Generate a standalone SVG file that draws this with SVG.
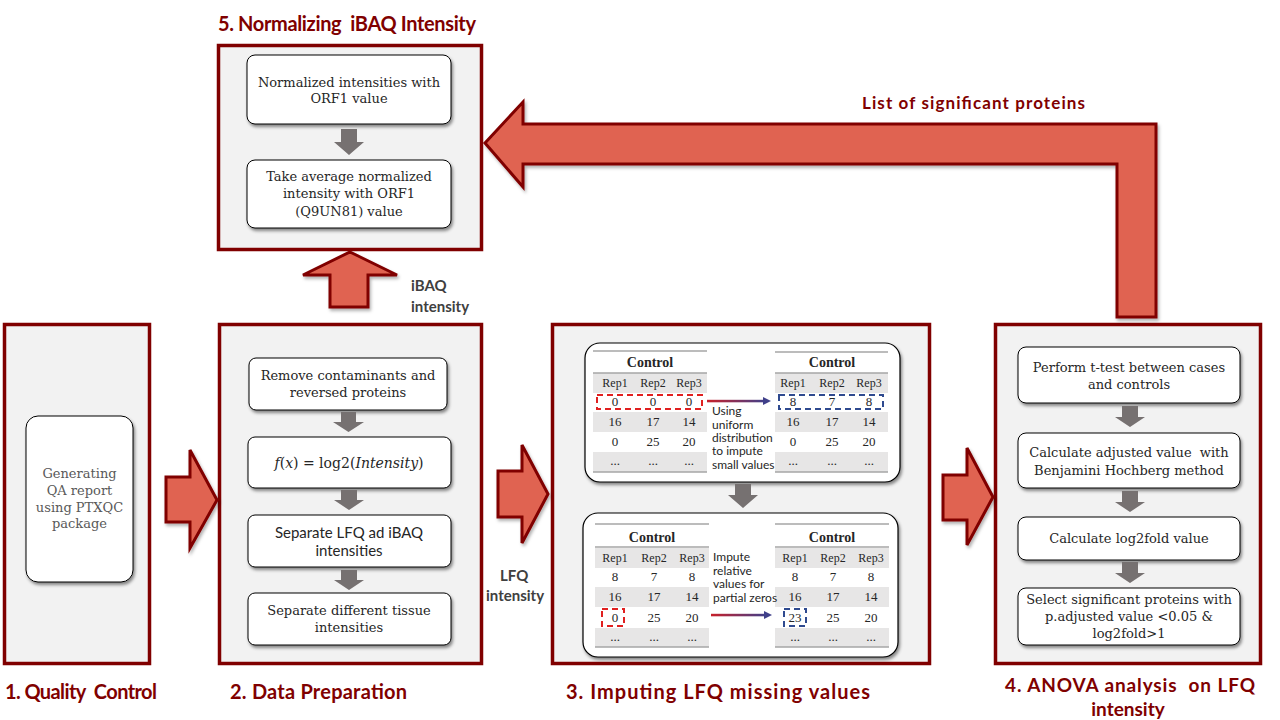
<svg xmlns="http://www.w3.org/2000/svg" width="1280" height="720" viewBox="0 0 1280 720">
<style>
.sec{fill:#f2f2f2;stroke:#800000;stroke-width:3.5}
.box{fill:#fff;stroke:#000;stroke-width:1;filter:url(#sh)}
.panel{fill:#fff;stroke:#000;stroke-width:1.2;filter:url(#sh)}
.big{fill:#e06451;stroke:#800000;stroke-width:3;stroke-linejoin:miter;filter:url(#sh2)}
.garr{fill:#767171}
.title{font-family:Lato,"Liberation Sans",sans-serif;font-weight:700;font-size:20px;fill:#800000}
.lbl{font-family:Lato,"Liberation Sans",sans-serif;font-weight:700;font-size:15px;fill:#404040}
.ser{font-family:"DejaVu Serif","Liberation Serif",serif;font-size:13px;fill:#262626;text-anchor:middle}
.sans{font-family:Lato,"Liberation Sans",sans-serif;font-size:15px;fill:#262626;text-anchor:middle}
.tb{font-family:"Liberation Serif",serif;font-size:13px;fill:#262626;text-anchor:middle}
.th{font-family:"Liberation Serif",serif;font-size:14px;font-weight:700;fill:#262626;text-anchor:middle}
.tl{stroke:#a6a6a6;stroke-width:1.5}
.tg{fill:#e7e6e6}
.desc{font-family:Lato,"Liberation Sans",sans-serif;font-size:12px;fill:#262626}
.rd{fill:none;stroke:#e02020;stroke-width:2;stroke-dasharray:6 4}
.bd{fill:none;stroke:#2f4a8f;stroke-width:2;stroke-dasharray:6 4}
</style>
<defs>
<filter id="sh" x="-20%" y="-20%" width="150%" height="160%"><feDropShadow dx="1.5" dy="2.5" stdDeviation="1.8" flood-color="#000" flood-opacity="0.45"/></filter>
<filter id="sh2" x="-20%" y="-20%" width="150%" height="160%"><feDropShadow dx="1.5" dy="2.5" stdDeviation="1.5" flood-color="#000" flood-opacity="0.3"/></filter>
<linearGradient id="ga" x1="0" y1="0" x2="1" y2="0"><stop offset="0" stop-color="#c8202a"/><stop offset="1" stop-color="#40408a"/></linearGradient>
</defs>
<rect width="1280" height="720" fill="#fff"/>

<!-- Section 1 -->
<g id="sec1">
<rect class="sec" x="4.5" y="324.5" width="145" height="339"/>
<rect class="box" x="26" y="416" width="107" height="166" rx="12"/>
<text class="ser" style="fill:#595959"><tspan x="79.5" y="478">Generating</tspan><tspan x="79.5" y="495">QA report</tspan><tspan x="79.5" y="512">using PTXQC</tspan><tspan x="79.5" y="528">package</tspan></text>
<text class="title" x="5" y="699" xml:space="preserve" textLength="152" lengthAdjust="spacing">1. Quality  Control</text>
</g>

<!-- Section 2 -->
<g id="sec2">
<rect class="sec" x="219.5" y="324.5" width="262" height="339"/>
<g id="n2a"><rect class="box" x="249" y="358" width="198" height="52" rx="7"/>
<text class="ser"><tspan x="348" y="380">Remove contaminants and</tspan><tspan x="348" y="397">reversed proteins</tspan></text></g>
<g id="n2b"><rect class="box" x="248" y="437" width="203" height="51" rx="7"/>
<text class="ser" x="349" y="468" style="font-size:14px"><tspan font-style="italic">f</tspan>(<tspan font-style="italic">x</tspan>) = log2(<tspan font-style="italic">Intensity</tspan>)</text></g>
<g id="n2c"><rect class="box" x="248" y="515" width="203" height="52" rx="7"/>
<text class="sans"><tspan x="349" y="538">Separate LFQ ad iBAQ</tspan><tspan x="349" y="556">intensities</tspan></text></g>
<g id="n2d"><rect class="box" x="248" y="593" width="203" height="52" rx="7"/>
<text class="ser"><tspan x="349" y="615">Separate different tissue</tspan><tspan x="349" y="632">intensities</tspan></text></g>
<text class="title" x="230" y="699" textLength="177" lengthAdjust="spacing">2. Data Preparation</text>
</g>

<!-- Section 5 -->
<g id="sec5">
<rect class="sec" x="218.5" y="45.5" width="263" height="204"/>
<g id="n5a"><rect class="box" x="247" y="55" width="204" height="69" rx="8"/>
<text class="ser"><tspan x="349" y="87">Normalized intensities with</tspan><tspan x="349" y="103">ORF1 value</tspan></text></g>
<g id="n5b"><rect class="box" x="247" y="160" width="204" height="68" rx="8"/>
<text class="ser"><tspan x="349" y="181">Take average normalized</tspan><tspan x="349" y="198">intensity with ORF1</tspan><tspan x="349" y="216">(Q9UN81) value</tspan></text></g>
<text class="title" x="218" y="31" xml:space="preserve" textLength="258" lengthAdjust="spacing">5. Normalizing  iBAQ Intensity</text>
</g>

<!-- Section 3 -->
<g id="sec3">
<rect class="sec" x="552.5" y="324.5" width="377" height="339"/>
<g id="panel1">
<rect class="panel" x="585" y="343" width="315" height="139" rx="15"/>
<rect class="tg" x="593" y="373" width="114" height="20"/><rect class="tg" x="593" y="412" width="114" height="20"/><rect class="tg" x="593" y="452" width="114" height="20"/>
<line class="tl" x1="593" y1="351" x2="707" y2="351"/><line class="tl" x1="593" y1="373" x2="707" y2="373"/><line class="tl" x1="593" y1="472" x2="707" y2="472"/>
<text class="th" x="650" y="367">Control</text>
<text class="tb" style="font-size:12px"><tspan x="615" y="387">Rep1</tspan><tspan x="653" y="387">Rep2</tspan><tspan x="689" y="387">Rep3</tspan></text>
<text class="tb"><tspan x="615" y="406">0</tspan><tspan x="653" y="406">0</tspan><tspan x="689" y="406">0</tspan></text>
<text class="tb"><tspan x="615" y="426">16</tspan><tspan x="653" y="426">17</tspan><tspan x="689" y="426">14</tspan></text>
<text class="tb"><tspan x="615" y="446">0</tspan><tspan x="653" y="446">25</tspan><tspan x="689" y="446">20</tspan></text>
<text class="tb"><tspan x="615" y="465">...</tspan><tspan x="653" y="465">...</tspan><tspan x="689" y="465">...</tspan></text>
<rect class="rd" x="597" y="395" width="105" height="14"/>
<rect class="tg" x="775" y="373" width="113" height="20"/><rect class="tg" x="775" y="412" width="113" height="20"/><rect class="tg" x="775" y="452" width="113" height="20"/>
<line class="tl" x1="775" y1="352" x2="888" y2="352"/><line class="tl" x1="775" y1="373" x2="888" y2="373"/><line class="tl" x1="775" y1="472" x2="888" y2="472"/>
<text class="th" x="832" y="367">Control</text>
<text class="tb" style="font-size:12px"><tspan x="793" y="387">Rep1</tspan><tspan x="832" y="387">Rep2</tspan><tspan x="869" y="387">Rep3</tspan></text>
<text class="tb"><tspan x="793" y="406">8</tspan><tspan x="832" y="406">7</tspan><tspan x="869" y="406">8</tspan></text>
<text class="tb"><tspan x="793" y="426">16</tspan><tspan x="832" y="426">17</tspan><tspan x="869" y="426">14</tspan></text>
<text class="tb"><tspan x="793" y="446">0</tspan><tspan x="832" y="446">25</tspan><tspan x="869" y="446">20</tspan></text>
<text class="tb"><tspan x="793" y="465">...</tspan><tspan x="832" y="465">...</tspan><tspan x="869" y="465">...</tspan></text>
<rect class="bd" x="779" y="395" width="104" height="14"/>
<text class="desc"><tspan x="712" y="415">Using</tspan><tspan x="712" y="429">uniform</tspan><tspan x="712" y="442">distribution</tspan><tspan x="712" y="455">to impute</tspan><tspan x="712" y="469">small values</tspan></text>
</g>
<g id="panel2">
<rect class="panel" x="583" y="513" width="315" height="144" rx="15"/>
<rect class="tg" x="595" y="548" width="114" height="20"/><rect class="tg" x="595" y="587" width="114" height="20"/><rect class="tg" x="595" y="628" width="114" height="19"/>
<line class="tl" x1="595" y1="524" x2="709" y2="524"/><line class="tl" x1="595" y1="547" x2="709" y2="547"/><line class="tl" x1="595" y1="647" x2="709" y2="647"/>
<text class="th" x="652" y="542">Control</text>
<text class="tb" style="font-size:12px"><tspan x="615" y="562">Rep1</tspan><tspan x="654" y="562">Rep2</tspan><tspan x="692" y="562">Rep3</tspan></text>
<text class="tb"><tspan x="615" y="581">8</tspan><tspan x="654" y="581">7</tspan><tspan x="692" y="581">8</tspan></text>
<text class="tb"><tspan x="615" y="601">16</tspan><tspan x="654" y="601">17</tspan><tspan x="692" y="601">14</tspan></text>
<text class="tb"><tspan x="615" y="622">0</tspan><tspan x="654" y="622">25</tspan><tspan x="692" y="622">20</tspan></text>
<text class="tb"><tspan x="615" y="641">...</tspan><tspan x="654" y="641">...</tspan><tspan x="692" y="641">...</tspan></text>
<rect class="rd" x="602" y="609" width="22" height="17"/>
<rect class="tg" x="775" y="548" width="114" height="20"/><rect class="tg" x="775" y="587" width="114" height="20"/><rect class="tg" x="775" y="628" width="114" height="19"/>
<line class="tl" x1="775" y1="524" x2="889" y2="524"/><line class="tl" x1="775" y1="547" x2="889" y2="547"/><line class="tl" x1="775" y1="647" x2="889" y2="647"/>
<text class="th" x="832" y="542">Control</text>
<text class="tb" style="font-size:12px"><tspan x="795" y="562">Rep1</tspan><tspan x="833" y="562">Rep2</tspan><tspan x="871" y="562">Rep3</tspan></text>
<text class="tb"><tspan x="795" y="581">8</tspan><tspan x="833" y="581">7</tspan><tspan x="871" y="581">8</tspan></text>
<text class="tb"><tspan x="795" y="601">16</tspan><tspan x="833" y="601">17</tspan><tspan x="871" y="601">14</tspan></text>
<text class="tb"><tspan x="795" y="622">23</tspan><tspan x="833" y="622">25</tspan><tspan x="871" y="622">20</tspan></text>
<text class="tb"><tspan x="795" y="641">...</tspan><tspan x="833" y="641">...</tspan><tspan x="871" y="641">...</tspan></text>
<rect class="bd" x="784" y="609" width="22" height="17"/>
<text class="desc"><tspan x="713" y="561">Impute</tspan><tspan x="713" y="575">relative</tspan><tspan x="713" y="588">values for</tspan><tspan x="713" y="602">partial zeros</tspan></text>
</g>
<text class="title" x="566" y="699" textLength="304" lengthAdjust="spacing">3. Imputing LFQ missing values</text>
</g>

<!-- Section 4 -->
<g id="sec4">
<rect class="sec" x="995.5" y="324.5" width="265" height="339"/>
<g id="n4a"><rect class="box" x="1018" y="347" width="222" height="56" rx="8"/>
<text class="ser"><tspan x="1129" y="372">Perform t-test between cases</tspan><tspan x="1129" y="389">and controls</tspan></text></g>
<g id="n4b"><rect class="box" x="1018" y="433" width="222" height="55" rx="8"/>
<text class="ser" xml:space="preserve"><tspan x="1129" y="457">Calculate adjusted value  with</tspan><tspan x="1129" y="475">Benjamini Hochberg method</tspan></text></g>
<g id="n4c"><rect class="box" x="1018" y="517" width="222" height="43" rx="8"/>
<text class="ser" x="1129" y="543">Calculate log2fold value</text></g>
<g id="n4d"><rect class="box" x="1018" y="588" width="222" height="57" rx="8"/>
<text class="ser"><tspan x="1129" y="604">Select significant proteins with</tspan><tspan x="1129" y="621">p.adjusted value &lt;0.05 &amp;</tspan><tspan x="1129" y="638">log2fold&gt;1</tspan></text></g>
<text class="title" x="1005" y="692" style="font-size:19px" xml:space="preserve" textLength="250" lengthAdjust="spacing">4. ANOVA analysis  on LFQ</text>
<text class="title" x="1128" y="716" style="font-size:19px" text-anchor="middle">intensity</text>
</g>

<!-- Connectors -->
<g id="connectors">
<polygon class="big" points="166,477 190,477 190,450 217,500 190,548 190,522 166,522"/>
<polygon class="big" points="498,471 522,471 522,445 548,494 522,543 522,517 498,517"/>
<polygon class="big" points="943,475 967,475 967,448 993,497 967,545 967,520 943,520"/>
<polygon class="big" points="350,252 397,275 368,275 368,307 330,307 330,275 303,275"/>
<polygon class="big" points="485,143 523,102 523,124 1156,124 1156,317 1117,317 1117,164 523,164 523,187"/>
<text class="lbl" x="411" y="291">iBAQ</text><text class="lbl" x="411" y="312">intensity</text>
<text class="lbl" x="500" y="581">LFQ</text><text class="lbl" x="486" y="601">intensity</text>
<text class="title" x="862" y="109" style="font-size:17px" textLength="223" lengthAdjust="spacing">List of significant proteins</text>
<polygon class="garr" points="341,129 357,129 357,142 364,142 349,155 334,142 341,142"/>
<polygon class="garr" points="341,412 356,412 356,422 364,422 348.5,432 333,422 341,422"/>
<polygon class="garr" points="341,490 357,490 357,500 364,500 349,510 334,500 341,500"/>
<polygon class="garr" points="341,570 357,570 357,580 364,580 349,590 334,580 341,580"/>
<polygon class="garr" points="1122,406 1138,406 1138,417 1145,417 1130,427 1115,417 1122,417"/>
<polygon class="garr" points="1122,491 1138,491 1138,502 1145,502 1130,512 1115,502 1122,502"/>
<polygon class="garr" points="1122,562 1138,562 1138,573 1145,573 1130,583 1115,573 1122,573"/>
<polygon class="garr" points="735,484 751,484 751,495 758,495 743,508 728,495 735,495"/>
<rect x="707" y="399.8" width="58" height="2.5" fill="url(#ga)"/>
<polygon points="771,401 763,397 763,405" fill="#40408a"/>
<rect x="711" y="613.8" width="55" height="2.5" fill="url(#ga)"/>
<polygon points="772,615 764,611 764,619" fill="#40408a"/>
</g>
</svg>
